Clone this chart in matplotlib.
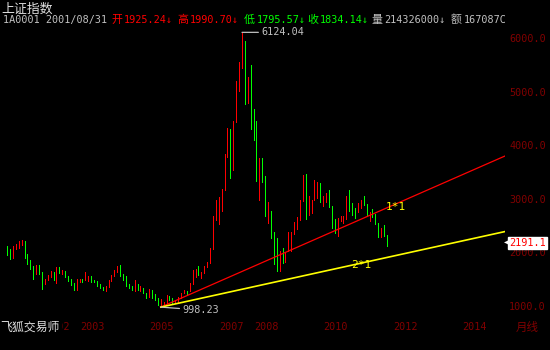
import numpy as np
import matplotlib
matplotlib.use("Agg")
import matplotlib.pyplot as plt
from matplotlib.transforms import blended_transform_factory

# monthly bars, Jan 2001 .. Dec 2011 (open, high, low, close)
opens = [2077, 2060, 1960, 2115, 2120, 2214, 2218, 1925, 1834, 1712, 1690, 1747,
         1646, 1491, 1525, 1581, 1640, 1512, 1732, 1647, 1668, 1581, 1507, 1427,
         1358, 1499, 1511, 1510, 1521, 1576, 1487, 1477, 1421, 1367, 1348, 1397,
         1497, 1590, 1675, 1741, 1595, 1555, 1399, 1386, 1342, 1396, 1320, 1340,
         1266, 1191, 1306, 1181, 1159, 1060, 1080, 1083, 1162, 1155, 1092, 1099,
         1161, 1258, 1299, 1298, 1440, 1641, 1672, 1612, 1658, 1752, 1837, 2099,
         2675, 2786, 2881, 3183, 3841, 4109, 3820, 4471, 5218, 5552, 5954, 4871,
         5262, 4383, 4348, 3473, 3693, 3433, 2736, 2776, 2397, 2293, 1729, 1871,
         1821, 1991, 2082, 2373, 2477, 2633, 2959, 3412, 2667, 2779, 2996, 3195,
         3277, 2989, 3051, 3110, 2871, 2592, 2398, 2638, 2639, 2656, 2979, 2820,
         2808, 2791, 2905, 2928, 2911, 2743, 2762, 2701, 2567, 2359, 2469, 2333]
highs = [2132, 2090, 2143, 2180, 2232, 2245, 2230, 1991, 1870, 1766, 1776, 1780,
         1650, 1525, 1600, 1670, 1650, 1748, 1752, 1690, 1675, 1586, 1520, 1450,
         1520, 1520, 1530, 1649, 1577, 1580, 1510, 1480, 1430, 1380, 1400, 1511,
         1600, 1686, 1760, 1783, 1622, 1570, 1420, 1400, 1500, 1422, 1400, 1350,
         1270, 1328, 1310, 1240, 1160, 1147, 1100, 1223, 1197, 1160, 1110, 1180,
         1260, 1310, 1307, 1445, 1685, 1705, 1757, 1660, 1760, 1840, 2110, 2698,
         2995, 3050, 3200, 3850, 4335, 4312, 4472, 5219, 5562, 6124, 5954, 5300,
         5523, 4695, 4473, 3787, 3786, 3443, 2952, 2793, 2400, 2293, 2051, 2100,
         2005, 2402, 2402, 2579, 2688, 2990, 3454, 3478, 3068, 3001, 3361, 3340,
         3306, 3073, 3130, 3181, 2880, 2637, 2655, 2707, 2700, 3071, 3186, 2934,
         2852, 2935, 3001, 3067, 2926, 2778, 2827, 2743, 2569, 2475, 2536, 2346]
lows = [1972, 1893, 1920, 2076, 2106, 2165, 1913, 1796, 1700, 1514, 1620, 1624,
        1339, 1432, 1508, 1566, 1495, 1455, 1630, 1623, 1563, 1492, 1415, 1311,
        1311, 1470, 1470, 1505, 1480, 1470, 1460, 1400, 1360, 1317, 1307, 1380,
        1490, 1580, 1650, 1580, 1500, 1398, 1350, 1326, 1300, 1316, 1300, 1259,
        1177, 1178, 1165, 1134, 1043, 998.23, 1004, 1080, 1140, 1067, 1074, 1090,
        1160, 1255, 1243, 1290, 1430, 1560, 1600, 1541, 1640, 1740, 1830, 2090,
        2630, 2541, 2800, 3183, 3805, 3404, 3563, 4450, 5033, 5462, 4778, 4812,
        4330, 4123, 3357, 2990, 3333, 2693, 2566, 2284, 1802, 1679, 1664, 1814,
        1844, 2037, 2051, 2355, 2460, 2630, 2970, 2639, 2712, 2760, 3000, 3039,
        2963, 2890, 2963, 2861, 2481, 2382, 2319, 2604, 2573, 2644, 2794, 2721,
        2661, 2774, 2852, 2902, 2700, 2610, 2685, 2550, 2307, 2307, 2319, 2135]
closes = [2065, 1960, 2112, 2119, 2214, 2218, 1920, 1834, 1712, 1690, 1747, 1646,
          1491, 1525, 1581, 1640, 1512, 1732, 1647, 1668, 1581, 1507, 1427, 1358,
          1499, 1511, 1510, 1521, 1576, 1487, 1477, 1421, 1367, 1348, 1397, 1497,
          1590, 1675, 1741, 1595, 1555, 1399, 1386, 1342, 1396, 1320, 1340, 1266,
          1191, 1306, 1181, 1159, 1060, 1080, 1083, 1162, 1155, 1092, 1099, 1161,
          1258, 1299, 1298, 1440, 1641, 1672, 1612, 1658, 1752, 1837, 2099, 2675,
          2786, 2881, 3183, 3841, 4109, 3820, 4471, 5218, 5552, 5954, 4871, 5262,
          4383, 4348, 3473, 3693, 3433, 2736, 2776, 2397, 2293, 1729, 1871, 1821,
          1991, 2082, 2373, 2477, 2633, 2959, 3412, 2667, 2779, 2996, 3195, 3277,
          2989, 3051, 3110, 2871, 2592, 2398, 2638, 2639, 2656, 2979, 2820, 2808,
          2791, 2905, 2928, 2911, 2743, 2762, 2701, 2567, 2359, 2469, 2333, 2199]

start_year = 2001
year_labels = ["2002", "2003", "2005", "2007", "2008", "2010", "2012", "2014"]
y_ticks = [1000, 2000, 3000, 4000, 5000, 6000]
low_price = 998.23
high_price = 6124.04
last_price = 2191.1
gann_slope = 23.75   # points per month for 1*1

RED = "#ff0000"
GREEN = "#00ff00"
GRAY = "#c0c0c0"
DARKRED = "#800000"
YEL = "#ffff00"
MONO = ["DejaVu Sans Mono", "Noto Sans CJK SC"]
CJK = ["Noto Sans CJK SC", "DejaVu Sans"]

o = np.array(opens, float)
h = np.array(highs, float)
l = np.array(lows, float)
c = np.array(closes, float)
m = np.arange(len(c))

fig = plt.figure(figsize=(5.5, 3.5), dpi=100, facecolor="black")
ax = fig.add_axes([0, 32 / 350, 505 / 550, 290 / 350])
ax.set_facecolor("black")
for s in ax.spines.values():
    s.set_visible(False)
ax.set_xticks([])
ax.set_yticks([])
ax.set_xlim(-2.45, 171.7)
ax.set_ylim(795, 6205)

cols = [RED if cc >= oo else GREEN for oo, cc in zip(o, c)]
ax.vlines(m, l, h, colors=cols, lw=0.72, antialiased=False)

# gann lines from the 2005 low
i_low = int(np.argmin(l))
xe = np.array([i_low, 171.7])
ax.plot(xe, low_price + gann_slope * (xe - i_low), color=RED, lw=0.9)
ax.plot(xe, low_price + gann_slope / 2 * (xe - i_low), color=YEL, lw=1.2)
ax.text(130.5, low_price + gann_slope * (130.5 - i_low) + 20, "1*1", color=YEL,
        fontsize=8, family=MONO, va="center", ha="left", zorder=5)
ax.text(118.5, low_price + gann_slope / 2 * (118.5 - i_low), "2*1", color=YEL,
        fontsize=8, family=MONO, va="center", ha="left", zorder=5)

# high / low markers
i_high = int(np.argmax(h))
ax.annotate("%.2f" % high_price, xy=(i_high, high_price), xytext=(i_high + 6.6, high_price),
            color=GRAY, fontsize=7.3, family=MONO, va="center", ha="left",
            arrowprops=dict(arrowstyle="-", color=GRAY, lw=0.9, shrinkA=0, shrinkB=0))
ax.annotate("%.2f" % low_price, xy=(i_low, low_price), xytext=(i_low + 7.4, low_price - 55),
            color=GRAY, fontsize=7.3, family=MONO, va="center", ha="left",
            arrowprops=dict(arrowstyle="-", color=GRAY, lw=0.9, shrinkA=0, shrinkB=0))

# right price axis
ty = blended_transform_factory(fig.transFigure, ax.transData)
for v in y_ticks:
    fig.text(546 / 550, v, "%.1f" % v, transform=ty, color=DARKRED, fontsize=7.3,
             family=MONO, ha="right", va="center")
fig.text(546 / 550, last_price, "%.1f" % last_price, transform=ty, color=RED, fontsize=7.3,
         family=MONO, ha="right", va="center",
         bbox=dict(boxstyle="square,pad=0.12", fc="white", ec="white"))
fig.text(509 / 550, last_price, "\u25c0", transform=ty, color="white", fontsize=4.5,
         family=["DejaVu Sans"], ha="right", va="center")

# time axis labels
tx = blended_transform_factory(ax.transData, fig.transFigure)
for lab in year_labels:
    xm = (int(lab) - start_year) * 12 + 1.1
    fig.text(xm, 1 - 326.5 / 350, lab, transform=tx, color=DARKRED, fontsize=7.3,
             family=MONO, ha="left", va="center")
fig.text(0, 1 - 327 / 350, "飞狐交易师", color="#e0e0e0", fontsize=8.6, family=CJK,
         ha="left", va="center",
         bbox=dict(boxstyle="square,pad=0.1", fc="black", ec="black"))
fig.text(527 / 550, 1 - 327 / 350, "月线", color=DARKRED, fontsize=8.3, family=CJK,
         ha="center", va="center")

# header
fig.text(1 / 550, 1 - 9 / 350, "上证指数", color="#e0e0e0", fontsize=9.3, family=CJK,
         ha="left", va="center")
hy = 1 - 20 / 350
fig.text(3 / 550, hy, "1A0001 2001/08/31", color=GRAY, fontsize=7.3, family=MONO,
         ha="left", va="center")
head = [(111, "开", "1925.24↓", RED), (177, "高", "1990.70↓", RED),
        (244, "低", "1795.57↓", GREEN), (307, "收", "1834.14↓", GREEN),
        (371, "量", "214326000↓", GRAY), (451, "额", "167087C", GRAY)]
for xp, lab, num, col in head:
    fig.text(xp / 550, hy, lab, color=col, fontsize=7.9, family=CJK, ha="left", va="center")
    fig.text((xp + 13) / 550, hy, num, color=col, fontsize=7.3, family=MONO,
             ha="left", va="center")

fig.savefig("out.png", dpi=100, facecolor="black")
